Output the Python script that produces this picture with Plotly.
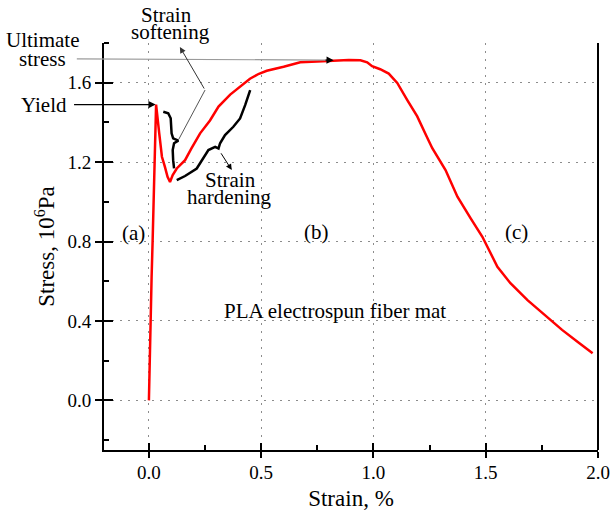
import plotly.graph_objects as go

# stress-strain curve of the PLA mat (strain in %, stress in 10^6 Pa)
strain = [0.0, 0.0045, 0.0076, 0.012, 0.0165, 0.022, 0.024, 0.027, 0.032,
          0.046, 0.058, 0.071, 0.083, 0.094, 0.106, 0.124, 0.161, 0.19, 0.228,
          0.272, 0.31, 0.362, 0.42, 0.45, 0.49, 0.525, 0.60, 0.674, 0.75,
          0.823, 0.89, 0.942, 0.972, 0.994, 1.03, 1.068, 1.106, 1.15, 1.195,
          1.237, 1.262, 1.321, 1.374, 1.433, 1.485, 1.552, 1.61, 1.686, 1.775,
          1.84, 1.91, 1.976]
stress = [0.0, 0.25, 0.52, 0.62, 0.80, 1.09, 1.20, 1.35, 1.49,
          1.345, 1.227, 1.177, 1.126, 1.10, 1.135, 1.168, 1.21, 1.27, 1.345,
          1.41, 1.48, 1.54, 1.59, 1.62, 1.645, 1.66, 1.68, 1.703, 1.707,
          1.713, 1.715, 1.713, 1.703, 1.683, 1.668, 1.646, 1.599, 1.514, 1.43,
          1.329, 1.27, 1.16, 1.026, 0.917, 0.824, 0.673, 0.59, 0.505, 0.42,
          0.355, 0.294, 0.237]

# hand-drawn brace marking the softening region
brace_x = [0.064, 0.086, 0.097, 0.101, 0.101, 0.108, 0.131, 0.112, 0.106, 0.108, 0.112]
brace_y = [1.454, 1.446, 1.421, 1.378, 1.345, 1.320, 1.308, 1.295, 1.261, 1.210, 1.168]

# hand-drawn curve marking the hardening region
hard_x = [0.124, 0.161, 0.213, 0.265, 0.295, 0.31, 0.317, 0.339, 0.376, 0.406, 0.429, 0.443, 0.451]
hard_y = [1.109, 1.13, 1.168, 1.261, 1.277, 1.269, 1.295, 1.336, 1.378, 1.42, 1.488, 1.53, 1.563]

x_range = [-0.2, 2.0]
y_range = [-0.25, 1.8]

SERIF = "Liberation Serif, Times New Roman, serif"


def px_(v):
    # data x -> paper x (for things drawn outside the axes)
    return (v - x_range[0]) / (x_range[1] - x_range[0])


def py_(v):
    return (v - y_range[0]) / (y_range[1] - y_range[0])


fig = go.Figure()
fig.add_trace(go.Scatter(x=strain, y=stress, mode='lines',
                         line=dict(color='#ff0000', width=2.5), showlegend=False))
fig.add_trace(go.Scatter(x=brace_x, y=brace_y, mode='lines',
                         line=dict(color='black', width=2.5), showlegend=False))
fig.add_trace(go.Scatter(x=hard_x, y=hard_y, mode='lines',
                         line=dict(color='black', width=2.5), showlegend=False))
# empty trace so the overlay axes (inner half of the major ticks) get drawn
fig.add_trace(go.Scatter(x=[None], y=[None], xaxis='x2', yaxis='y2', showlegend=False))

axis_common = dict(
    showline=True, linecolor='black', linewidth=2,
    ticks='outside', tickwidth=2, tickcolor='black',
    showgrid=True, gridcolor='#8c8c8c', gridwidth=1, griddash='2px,6px',
    zeroline=False, tickformat='.1f', automargin=False,
    tickfont=dict(family=SERIF, size=19, color='black'),
)

fig.update_layout(
    width=612, height=511,
    margin=dict(l=104, r=14, t=43, b=61),
    paper_bgcolor='white', plot_bgcolor='white',
    font=dict(family=SERIF, color='black'),
    xaxis=dict(range=x_range, tick0=0, dtick=0.5, ticklen=6, ticklabelstandoff=-2,
               minor=dict(dtick=0.25, tick0=0, ticks='inside', ticklen=5,
                          tickwidth=1.5, tickcolor='black', showgrid=False),
               title=dict(text='Strain, %', font=dict(family=SERIF, size=23), standoff=8),
               **axis_common),
    yaxis=dict(range=y_range, tick0=0, dtick=0.4, ticklen=7,
               minor=dict(dtick=0.2, tick0=0, ticks='inside', ticklen=5,
                          tickwidth=1.5, tickcolor='black', showgrid=False),
               title=dict(text='Stress, 10<sup>6</sup>Pa', font=dict(family=SERIF, size=23),
                          standoff=6),
               **axis_common),
    xaxis2=dict(range=x_range, overlaying='x', anchor='y', tick0=0, dtick=0.5,
                ticks='inside', ticklen=7, tickwidth=2, tickcolor='black', automargin=False,
                showticklabels=False, showgrid=False, showline=False, zeroline=False),
    yaxis2=dict(range=y_range, overlaying='y', anchor='x', tick0=0, dtick=0.4,
                ticks='inside', ticklen=9, tickwidth=2, tickcolor='black', automargin=False,
                showticklabels=False, showgrid=False, showline=False, zeroline=False),
)

# right frame line (no top line in the original)
fig.add_shape(type='line', xref='paper', yref='paper', x0=1, x1=1, y0=0, y1=1,
              line=dict(color='black', width=2))

# ultimate stress pointer: grey line with black head
fig.add_shape(type='line', xref='paper', yref='paper',
              x0=px_(-0.321), y0=py_(1.72), x1=px_(0.80), y1=py_(1.714),
              line=dict(color='#9a9a9a', width=1.2))
fig.add_annotation(x=0.823, y=1.713, ax=0.78, ay=1.714, axref='x', ayref='y',
                   text='', showarrow=True, arrowhead=2, arrowsize=1.2,
                   arrowwidth=1.2, arrowcolor='black')

# yield pointer
fig.add_annotation(x=0.03, y=1.49, ax=-0.34, ay=1.49, axref='x', ayref='y',
                   text='', showarrow=True, arrowhead=2, arrowsize=1.2,
                   arrowwidth=1.2, arrowcolor='black')

# softening pointer: V-shaped line up to the label
fig.add_shape(type='line', x0=0.133, y0=1.315, x1=0.25, y1=1.563,
              line=dict(color='#555555', width=1))
fig.add_annotation(x=0.138, y=1.78, ax=0.25, ay=1.563, axref='x', ayref='y',
                   text='', showarrow=True, arrowhead=2, arrowsize=1.2,
                   arrowwidth=1, arrowcolor='#333333')

# hardening pointer
fig.add_annotation(x=0.369, y=1.16, ax=0.317, ay=1.252, axref='x', ayref='y',
                   text='', showarrow=True, arrowhead=2, arrowsize=1.2,
                   arrowwidth=1, arrowcolor='black')

labels = [
    ('Yield', -0.469, 1.49),
    ('Ultimate', -0.473, 1.817),
    ('stress', -0.473, 1.72),
    ('Strain', 0.08, 1.943),
    ('softening', 0.094, 1.853),
    ('Strain', 0.362, 1.11),
    ('hardening', 0.357, 1.025),
    ('(a)', -0.069, 0.845),
    ('(b)', 0.746, 0.848),
    ('(c)', 1.638, 0.848),
    ('PLA electrospun fiber mat', 0.828, 0.449),
]
for txt, lx, ly in labels:
    fig.add_annotation(x=px_(lx), y=py_(ly), xref='paper', yref='paper',
                       xanchor='center', yanchor='middle',
                       text=txt, showarrow=False,
                       font=dict(family=SERIF, size=21, color='black'))

fig.write_html("out.html", config={'displayModeBar': False},
               post_script="document.body.style.margin='0px';")
